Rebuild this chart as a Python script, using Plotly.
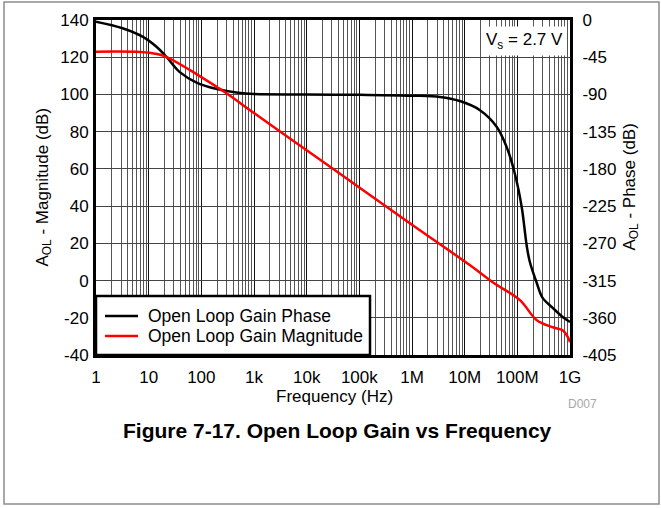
import plotly.graph_objects as go

# ---- data ----
freq_phase = [1, 3.2, 7.8, 14.4, 22, 39, 83, 198, 500, 1e3, 1e4, 1e5, 1e6, 3.4e6, 8.1e6,
              1.95e7, 4.05e7, 6.3e7, 8.9e7, 1.21e8, 1.5e8, 1.72e8, 2.34e8, 3.02e8, 4.7e8,
              7.25e8, 1e9]
phase_deg = [-2, -10, -20.5, -33, -45, -63, -76, -83.5, -88, -89.5, -90, -90.5, -91.5, -93, -98,
             -109, -129, -154, -185, -226, -272, -292, -318, -336, -348,
             -359, -365]

freq_mag = [1, 7, 14.4, 22, 61, 198, 306, 1e3, 1e4, 1e5, 1e6, 1.25e7, 3.4e7, 1.12e8,
            2.34e8, 4.7e8, 7.25e8, 9.1e8, 1e9]
mag_db = [123, 122.8, 121.7, 120.1, 113.1, 104, 100.5, 90, 70, 50, 30, 8.3, -0.9, -10.5,
          -21.3, -25.1, -26.7, -30.4, -33.1]

x_tickvals = [1, 10, 100, 1e3, 1e4, 1e5, 1e6, 1e7, 1e8, 1e9]
x_ticktext = ["1", "10", "100", "1k", "10k", "100k", "1M", "10M", "100M", "1G"]
mag_ticks = [-40, -20, 0, 20, 40, 60, 80, 100, 120, 140]
mag_ticktext = ["-40", "-20", "0", "20", "40", "60", "80", "100", "120", "140"]
phase_ticks = [0, -45, -90, -135, -180, -225, -270, -315, -360, -405]
phase_ticktext = ["0", "-45", "-90", "-135", "-180", "-225", "-270", "-315", "-360", "-405"]
series_names = ["Open Loop Gain Phase", "Open Loop Gain Magnitude"]
series_colors = ["black", "#ff0000"]

FONT = "Liberation Sans, Arial, sans-serif"

# plot-area pixel geometry
L, R, T, B = 96, 570, 20, 355
W, H = 661, 508
PW, PH = R - L, B - T


def px(x):
    return (x - L) / PW


def py(y):
    return (B - y) / PH


fig = go.Figure()
fig.add_trace(go.Scatter(x=freq_phase, y=phase_deg, mode="lines", name=series_names[0],
                         line=dict(color=series_colors[0], width=2.5, shape="spline"), yaxis="y"))
fig.add_trace(go.Scatter(x=freq_mag, y=mag_db, mode="lines", name=series_names[1],
                         line=dict(color=series_colors[1], width=2.5, shape="spline"), yaxis="y2"))

fig.update_layout(
    width=W, height=H,
    margin=dict(l=L, r=W - R, t=T, b=H - B, pad=0),
    paper_bgcolor="white", plot_bgcolor="white",
    font=dict(family=FONT, size=17, color="black"),
    showlegend=False,
    xaxis=dict(type="log", range=[0, 9], tickvals=x_tickvals, ticktext=x_ticktext,
               showgrid=True, gridcolor="#111111", gridwidth=1,
               minor=dict(dtick="D1", showgrid=True, gridcolor="#555555", gridwidth=1, ticks=""),
               showline=True, linecolor="black", linewidth=3, mirror=True,
               ticks="outside", ticklen=5, tickcolor="rgba(0,0,0,0)",
               tickfont=dict(size=17), zeroline=False),
    yaxis=dict(range=[-405, 0], tickvals=phase_ticks, ticktext=phase_ticktext, side="right",
               showgrid=True, gridcolor="#444444", gridwidth=1,
               showline=True, linecolor="black", linewidth=3, mirror=True,
               ticks="outside", ticklen=6, tickcolor="rgba(0,0,0,0)",
               tickfont=dict(size=17), zeroline=False),
    yaxis2=dict(range=[-40, 140], tickvals=mag_ticks, ticktext=mag_ticktext, side="left",
                overlaying="y", showgrid=False, showline=True, linecolor="black", linewidth=3,
                ticks="outside", ticklen=1, tickcolor="rgba(0,0,0,0)",
                tickfont=dict(size=17), zeroline=False),
)

ann = [
    dict(text="A<sub>OL</sub> - Magnitude (dB)", x=px(43), y=0.5, textangle=-90,
         xanchor="center", yanchor="middle", font=dict(size=17)),
    dict(text="A<sub>OL</sub> - Phase (dB)", x=px(630), y=0.5, textangle=-90,
         xanchor="center", yanchor="middle", font=dict(size=17)),
    dict(text="Frequency (Hz)", x=px(334), y=py(396), xanchor="center", yanchor="middle",
         font=dict(size=17)),
    dict(text="<b>Figure 7-17. Open Loop Gain vs Frequency</b>", x=px(337), y=py(430),
         xanchor="center", yanchor="middle", font=dict(size=21)),
    dict(text="D007", x=px(582), y=py(404), xanchor="center", yanchor="middle",
         font=dict(size=12, color="#a6a6a6")),
    dict(text="V<sub>s</sub> = 2.7 V", x=px(567), y=py(26), xanchor="right", yanchor="top",
         bgcolor="white", borderpad=3, font=dict(size=17)),
]

shapes = [
    dict(type="rect", xref="paper", yref="paper", x0=px(4), x1=px(659), y0=py(504), y1=py(2),
         line=dict(color="#8c8c8c", width=1.5), fillcolor="rgba(0,0,0,0)", layer="below"),
    # legend box
    dict(type="rect", xref="paper", yref="paper", x0=px(96), x1=px(370), y0=py(355), y1=py(296),
         line=dict(color="black", width=2.5), fillcolor="white", layer="above"),
]
legend_rows = [316, 336]
for name, color, ry in zip(series_names, series_colors, legend_rows):
    shapes.append(dict(type="line", xref="paper", yref="paper", x0=px(105), x1=px(138),
                       y0=py(ry), y1=py(ry), line=dict(color=color, width=2.5), layer="above"))
    ann.append(dict(text=name, x=px(146), y=py(ry), xanchor="left", yanchor="middle",
                    font=dict(size=17.5)))

for a in ann:
    a.update(xref="paper", yref="paper", showarrow=False)
fig.update_layout(annotations=ann, shapes=shapes)

fig.write_html("out.html", config={"displayModeBar": False},
               post_script="document.body.style.margin='0';document.body.style.padding='0';")
